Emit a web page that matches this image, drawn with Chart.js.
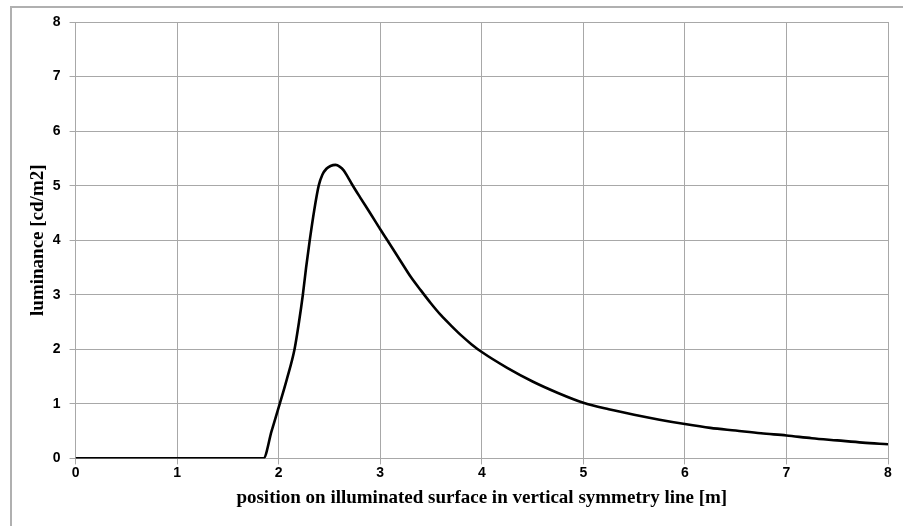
<!DOCTYPE html>
<html>
<head>
<meta charset="utf-8">
<script src="https://cdn.jsdelivr.net/npm/chart.js@4"></script>
<style>
  html, body { margin: 0; padding: 0; background: #fff; }
  #wrap { position: relative; width: 903px; height: 526px; overflow: hidden; }
  #frame { position: absolute; left: 10px; top: 6px; width: 1000px; height: 1000px;
           border-left: 2px solid #b0b0b0; border-top: 2px solid #b0b0b0; box-sizing: border-box; }
  canvas { position: absolute; left: 0; top: 0; }
</style>
</head>
<body>
<div id="wrap">
  <div id="frame"></div>
  <canvas id="chart" width="903" height="526"></canvas>
</div>
<script>
// posición [m] y luminancia [cd/m2]
const posicion = [0, 0.5, 1, 1.5, 1.85, 1.93, 2.01, 2.08, 2.156, 2.2, 2.238, 2.27, 2.306, 2.35, 2.394, 2.43, 2.47, 2.51, 2.56, 2.6, 2.64, 2.68, 2.72, 2.8, 2.9, 3.0, 3.07, 3.2, 3.3, 3.4, 3.5, 3.6, 3.7, 3.8, 3.9, 4.0, 4.25, 4.5, 4.75, 5.0, 5.25, 5.5, 5.75, 6.0, 6.25, 6.5, 6.75, 7.0, 7.25, 7.5, 7.75, 8.0];
const luminancia = [0, 0, 0, 0, 0, 0.5, 1.0, 1.45, 2.0, 2.5, 3.0, 3.5, 4.0, 4.55, 5.0, 5.2, 5.31, 5.36, 5.38, 5.35, 5.28, 5.16, 5.03, 4.79, 4.5, 4.2, 4.0, 3.62, 3.33, 3.08, 2.84, 2.62, 2.43, 2.25, 2.09, 1.95, 1.66, 1.41, 1.2, 1.02, 0.9, 0.8, 0.71, 0.63, 0.56, 0.51, 0.46, 0.42, 0.37, 0.33, 0.29, 0.26];
const ticksX = [0, 1, 2, 3, 4, 5, 6, 7, 8];
const ticksY = [0, 1, 2, 3, 4, 5, 6, 7, 8];

const puntos = posicion.map((x, i) => ({ x, y: luminancia[i] }));
const gridColor = '#a8a8a8';
const tickFont = { family: 'Liberation Sans', weight: 'bold', size: 14 };
const titleFont = { family: 'Liberation Serif', weight: 'bold', size: 19 };

new Chart(document.getElementById('chart'), {
  type: 'line',
  data: {
    datasets: [{
      data: puntos,
      borderColor: '#000',
      borderWidth: 2.6,
      pointRadius: 0,
      fill: false,
      cubicInterpolationMode: 'monotone'
    }]
  },
  options: {
    responsive: false,
    animation: false,
    layout: { padding: { top: 22, right: 15, left: 27, bottom: 17 } },
    plugins: { legend: { display: false }, tooltip: { enabled: false } },
    scales: {
      x: {
        type: 'linear', min: 0, max: 8,
        afterBuildTicks: ax => { ax.ticks = ticksX.map(v => ({ value: v })); },
        grid: { color: gridColor, lineWidth: 1, tickLength: 6 },
        border: { color: gridColor },
        ticks: { color: '#000', font: tickFont, padding: 0 },
        title: { display: true, text: 'position on illuminated surface in vertical symmetry line [m]', color: '#000', font: titleFont, padding: { top: 5, bottom: 0 } }
      },
      y: {
        type: 'linear', min: 0, max: 8,
        afterBuildTicks: ax => { ax.ticks = ticksY.map(v => ({ value: v })); },
        grid: { color: gridColor, lineWidth: 1, tickLength: 6 },
        border: { color: gridColor },
        ticks: { color: '#000', font: tickFont, padding: 9 },
        title: { display: true, text: 'luminance [cd/m2]', color: '#000', font: titleFont, padding: { top: 0, bottom: -6 } }
      }
    }
  }
});
</script>
</body>
</html>
